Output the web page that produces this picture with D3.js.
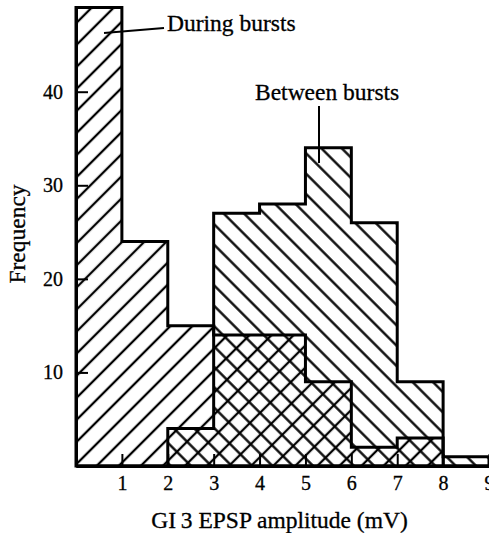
<!DOCTYPE html>
<html>
<head>
<meta charset="utf-8">
<script src="https://cdn.jsdelivr.net/npm/d3@7"></script>
<style>
  body { margin: 0; background: #fff; }
  text { font-family: "Liberation Serif", "Times New Roman", serif; fill: #000; }
</style>
</head>
<body>
<div id="chart"></div>
<script>
// bins are 1 mV wide, starting at these amplitudes
const binStarts = [0, 1, 2, 3, 4, 5, 6, 7, 8];
const duringBursts = [49, 24, 15, 14, 14, 9, 2, 3, 0];
const betweenBursts = [0, 0, 4, 27, 28, 34, 26, 9, 1];
const xTicks = [1, 2, 3, 4, 5, 6, 7, 8, 9];
const yTicks = [10, 20, 30, 40];
const binWidth = 1;

const width = 489, height = 533;

const svg = d3.select('#chart').append('svg')
  .attr('width', width)
  .attr('height', height);

svg.append('rect').attr('width', width).attr('height', height).attr('fill', '#fff');

const x = d3.scaleLinear().domain([0, 9]).range([76, 489]);
const y = d3.scaleLinear().domain([0, 49]).range([466, 7.5]);

// hatch patterns, "/" for during and "\" for between; overlap gives the cross hatch
const defs = svg.append('defs');
function hatch(id, size, angle) {
  const p = defs.append('pattern')
    .attr('id', id)
    .attr('patternUnits', 'userSpaceOnUse')
    .attr('width', size)
    .attr('height', size)
    .attr('patternTransform', `rotate(${angle})`);
  p.append('line')
    .attr('x1', size / 2).attr('y1', -1)
    .attr('x2', size / 2).attr('y2', size + 1)
    .attr('stroke', '#000')
    .attr('stroke-width', 2.3);
}
hatch('fwd', 15.6, 45);
hatch('back', 14.4, -45);

function steps(vals) {
  const pts = binStarts.map((b, i) => [b, vals[i]]);
  pts.push([binStarts[binStarts.length - 1] + binWidth, vals[vals.length - 1]]);
  return pts;
}

const area = d3.area()
  .x(d => x(d[0]))
  .y0(y(0))
  .y1(d => y(d[1]))
  .curve(d3.curveStepAfter);

// fills
svg.append('path').attr('d', area(steps(duringBursts))).attr('fill', 'url(#fwd)');
svg.append('path').attr('d', area(steps(betweenBursts))).attr('fill', 'url(#back)');

// outlines
[duringBursts, betweenBursts].forEach(vals => {
  svg.append('path')
    .attr('d', area(steps(vals)))
    .attr('fill', 'none')
    .attr('stroke', '#000')
    .attr('stroke-width', 3)
    .attr('stroke-linejoin', 'miter');
});

// axes, ticks point inwards
const xAxis = svg.append('g')
  .attr('transform', `translate(0,${y(0)})`)
  .call(d3.axisBottom(x).tickValues(xTicks).tickSizeInner(-12).tickSizeOuter(0).tickPadding(10));

const yAxis = svg.append('g')
  .attr('transform', `translate(${x(0)},0)`)
  .call(d3.axisLeft(y).tickValues(yTicks).tickSizeInner(-12).tickSizeOuter(0).tickPadding(13));

[xAxis, yAxis].forEach(g => {
  g.select('.domain').attr('stroke', '#000').attr('stroke-width', 3);
  g.selectAll('.tick line').attr('stroke', '#000').attr('stroke-width', 2);
  g.selectAll('.tick text')
    .attr('font-family', '"Liberation Serif", "Times New Roman", serif')
    .attr('font-size', 20)
    .attr('fill', '#000')
    .attr('stroke', '#000')
    .attr('stroke-width', 0.3);
});

// axis titles
const titleStyle = t => t.attr('font-size', 23.5).attr('stroke', '#000').attr('stroke-width', 0.3);

svg.append('text')
  .attr('x', 279.5).attr('y', 528)
  .attr('text-anchor', 'middle')
  .call(titleStyle)
  .text('GI\u20093 EPSP amplitude (mV)');

svg.append('text')
  .attr('transform', 'translate(25,234) rotate(-90)')
  .attr('text-anchor', 'middle')
  .call(titleStyle)
  .text('Frequency');

// annotations with leader lines
svg.append('text')
  .attr('x', 167).attr('y', 31)
  .call(titleStyle)
  .text('During bursts');
svg.append('line')
  .attr('x1', 104).attr('y1', 33).attr('x2', 164).attr('y2', 28)
  .attr('stroke', '#000').attr('stroke-width', 2);

svg.append('text')
  .attr('x', 255).attr('y', 100)
  .call(titleStyle)
  .text('Between bursts');
svg.append('line')
  .attr('x1', 319).attr('y1', 106).attr('x2', 319).attr('y2', 163)
  .attr('stroke', '#000').attr('stroke-width', 2);
</script>
</body>
</html>
